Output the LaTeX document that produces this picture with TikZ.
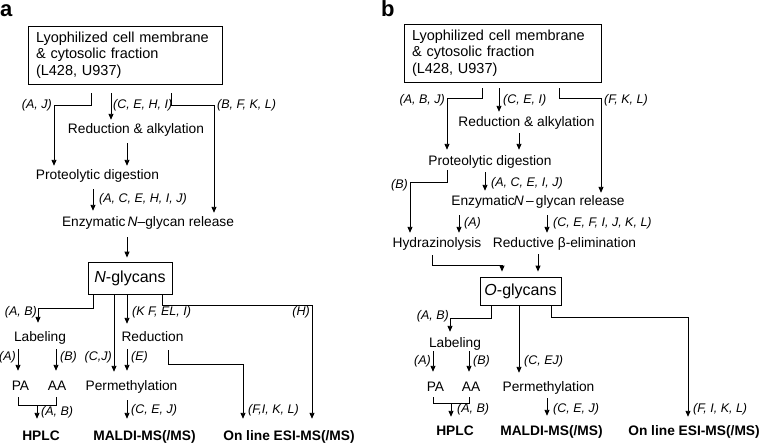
\documentclass[tikz,border=0pt]{standalone}
\usepackage{fontspec}
\setmainfont{Liberation Sans}
\usetikzlibrary{arrows.meta}
\begin{document}
\begin{tikzpicture}[x=1pt,y=-1pt,
  txt/.style={font=\fontsize{13.75}{16.5}\selectfont, inner sep=0pt, text height=10pt, text depth=3pt, anchor=base},
  bld/.style={txt, font=\fontsize{13.75}{16.5}\selectfont\bfseries},
  lab/.style={font=\fontsize{12.5}{14}\selectfont\itshape, inner sep=0pt, text height=9pt, text depth=3pt},
  labl/.style={lab, anchor=base west},
  labr/.style={lab, anchor=base east},
  big/.style={draw, line width=0.8pt, inner sep=0pt, align=left, font=\fontsize{14.5}{16.5}\selectfont},
  gly/.style={draw, line width=0.8pt, inner sep=0pt, font=\fontsize{16}{19}\selectfont},
  ln/.style={line width=0.9pt},
  arr/.style={ln, -{Triangle[length=6pt,width=5pt]}},
  panel/.style={font=\fontsize{22}{24}\selectfont\bfseries, inner sep=0pt, anchor=base west}
]
\useasboundingbox (0,0) rectangle (760,444);

% ================= panel a =================
\node[panel] (pa) at (0,17) {a};
\node[big, minimum width=194pt, minimum height=58pt, text width=178pt] (srcA) at (125,55)
  {Lyophilized cell membrane\\ \& cytosolic fraction\\ (L428, U937)};
\node[txt] (redA) at (136,133) {Reduction \& alkylation};
\node[txt] (proA) at (97.5,179) {Proteolytic digestion};
\node[txt] (enzA) at (148,226) {Enzymatic\,\textit{N}–glycan release};
\node[gly, minimum width=84pt, minimum height=32pt] (nglyA) at (130,278) {\textit{N}-glycans};
\node[txt] (labA) at (40,341) {Labeling};
\node[txt] (rdA) at (152.5,341) {Reduction};
\node[txt] (paA) at (20.5,390) {PA};
\node[txt] (aaA) at (57,390) {AA};
\node[txt] (permA) at (131.5,390) {Permethylation};
\node[bld] (hplcA) at (41,440) {HPLC};
\node[bld] (maldiA) at (144.5,440) {MALDI-MS(/MS)};
\node[bld] (esiA) at (289,440) {On line ESI-MS(/MS)};

\draw[arr, shorten >=3pt] (srcA.south -| 91,0) ++(0,9) |- (54,105) -- (proA.north -| 54,0);
\draw[arr, shorten >=3pt] (srcA.south -| 111,0) ++(0,9) -- (redA.north -| 111,0);
\draw[arr, shorten >=3pt] (srcA.south -| 171,0) ++(0,9) |- (214,105) -- (enzA.north -| 214,0);
\draw[arr, shorten >=3pt] (redA.south -| 127,0) ++(0,7) -- (proA.north -| 127,0);
\draw[arr, shorten >=5pt] (proA.south -| 93,0) ++(0,7) -- (enzA.north -| 93,0);
\draw[arr, shorten >=4pt] (enzA.south -| 127,0) ++(0,8) -- (nglyA.north -| 127,0);
\draw[arr, shorten >=8pt] (nglyA.south -| 93,0) |- (38,308) -- (labA.north -| 38,0);
\draw[arr, shorten >=8pt] (nglyA.south -| 114,0) -- (permA.north -| 114,0);
\draw[arr, shorten >=7pt] (nglyA.south -| 127,0) -- (rdA.north -| 127,0);
\draw[arr, shorten >=11pt] (nglyA.south -| 162,0) |- (312,305) -- (esiA.north -| 312,0);
\draw[arr, shorten >=9pt] (labA.south -| 18,0) ++(0,5) -- (paA.north -| 18,0);
\draw[arr, shorten >=9pt] (labA.south -| 56,0) ++(0,5) -- (aaA.north -| 56,0);
\draw[arr, shorten >=9pt] (rdA.south -| 127,0) ++(0,5) -- (permA.north -| 127,0);
\draw[arr, shorten >=11pt] (rdA.south -| 168,0) ++(0,6) |- (243,364) -- (esiA.north -| 243,0);
\draw[ln] (paA.south -| 18,0) ++(0,4) -- ++(0,8) -- ++(38,0) -- ++(0,-8);
\coordinate (brA) at (37,405);
\draw[arr, shorten >=11pt] (brA) -- (hplcA.north -| 37,0);
\draw[arr, shorten >=11pt] (permA.south -| 127,0) ++(0,7) -- (maldiA.north -| 127,0);

\node[labr] (la1) at (52,108) {(A, J)};
\node[labl] (la2) at (113,108) {(C, E, H, I)};
\node[labl] (la3) at (217,108) {(B, F, K, L)};
\node[labl] (la4) at (99,202) {(A, C, E, H, I, J)};
\node[labr] (la5) at (37,315) {(A, B)};
\node[labl] (la6) at (132,315) {(K F, EL, I)};
\node[labr] (la7) at (310,315) {(H)};
\node[labr] (la8) at (16,360) {(A)};
\node[labl] (la9) at (60,360) {(B)};
\node[labr] (la10) at (112,360) {(C,J)};
\node[labl] (la11) at (131,360) {(E)};
\node[labl] (la12) at (41,415) {(A, B)};
\node[labl] (la13) at (131,413) {(C, E, J)};
\node[labl] (la14) at (248,413) {(F,I, K, L)};

% ================= panel b =================
\node[panel] (pb) at (381,17) {b};
\node[big, minimum width=197pt, minimum height=58pt, text width=181pt] (srcB) at (502.5,53)
  {Lyophilized cell membrane\\ \& cytosolic fraction\\ (L428, U937)};
\node[txt] (redB) at (526.5,126) {Reduction \& alkylation};
\node[txt] (proB) at (490,165) {Proteolytic digestion};
\node[txt] (enzB) at (538,205) {Enzymatic\kern-1pt\textit{N}\,–\,glycan release};
\node[txt] (hydB) at (437,247) {Hydrazinolysis};
\node[txt] (rbeB) at (564.5,247) {Reductive β-elimination};
\node[gly, minimum width=81pt, minimum height=28pt] (oglyB) at (520.5,291) {\textit{O}-glycans};
\node[txt] (labB) at (455,347) {Labeling};
\node[txt] (paB) at (435.5,391) {PA};
\node[txt] (aaB) at (471,391) {AA};
\node[txt] (permB) at (548.5,391) {Permethylation};
\node[bld] (hplcB) at (455,435) {HPLC};
\node[bld] (maldiB) at (551.5,435) {MALDI-MS(/MS)};
\node[bld] (esiB) at (694,435) {On line ESI-MS(/MS)};

\draw[arr, shorten >=5pt] (srcB.south -| 482,0) ++(0,6) |- (447,98) -- (proB.north -| 447,0);
\draw[arr, shorten >=4pt] (srcB.south -| 499,0) ++(0,6) -- (redB.north -| 499,0);
\draw[arr, shorten >=2pt] (srcB.south -| 559,0) ++(0,6) |- (601,98) -- (enzB.north -| 601,0);
\draw[arr, shorten >=5pt] (redB.south -| 519,0) ++(0,4) -- (proB.north -| 519,0);
\draw[arr, shorten >=4pt] (proB.south -| 447,0) ++(0,2) |- (410,182) -- (hydB.north -| 410,0);
\draw[arr, shorten >=4pt] (proB.south -| 485,0) ++(0,4) -- (enzB.north -| 485,0);
\draw[arr, shorten >=4pt] (enzB.south -| 459,0) ++(0,7) -- (hydB.north -| 459,0);
\draw[arr, shorten >=4pt] (enzB.south -| 547,0) ++(0,7) -- (rbeB.north -| 547,0);
\draw[arr, shorten >=5pt] (hydB.south -| 432,0) ++(0,5) |- (502,265) -- (oglyB.north -| 502,0);
\draw[arr, shorten >=5pt] (rbeB.south -| 538,0) ++(0,4) -- (oglyB.north -| 538,0);
\draw[arr, shorten >=5pt] (oglyB.south -| 491,0) |- (450,318) -- (labB.north -| 450,0);
\draw[arr, shorten >=8pt] (oglyB.south -| 519,0) -- (permB.north -| 519,0);
\draw[arr, shorten >=8pt] (oglyB.south -| 551,0) |- (688,317) -- (esiB.north -| 688,0);
\draw[arr, shorten >=9pt] (labB.south -| 433,0) ++(0,1) -- (paB.north -| 433,0);
\draw[arr, shorten >=9pt] (labB.south -| 469,0) ++(0,1) -- (aaB.north -| 469,0);
\draw[ln] (paB.south -| 433,0) ++(0,3) -- ++(0,6) -- ++(36,0) -- ++(0,-6);
\coordinate (brB) at (451,403);
\draw[arr, shorten >=8pt] (brB) -- (hplcB.north -| 451,0);
\draw[arr, shorten >=9pt] (permB.south -| 547,0) ++(0,4) -- (maldiB.north -| 547,0);

\node[labr] (lb1) at (445,103) {(A, B, J)};
\node[labl] (lb2) at (503,103) {(C, E, I)};
\node[labl] (lb3) at (604,103) {(F, K, L)};
\node[labr] (lb4) at (408,188) {(B)};
\node[labl] (lb5) at (491,186) {(A, C, E, I, J)};
\node[labl] (lb6) at (464,226) {(A)};
\node[labl] (lb7) at (553,226) {(C, E, F, I, J, K, L)};
\node[labr] (lb8) at (449,319) {(A, B)};
\node[labl] (lb9) at (524,364) {(C, EJ)};
\node[labl] (lb10) at (693,412) {(F, I, K, L)};
\node[labr] (lb11) at (431,364) {(A)};
\node[labl] (lb12) at (473,364) {(B)};
\node[labl] (lb13) at (457,412) {(A, B)};
\node[labl] (lb14) at (553,412) {(C, E, J)};
\end{tikzpicture}
\end{document}
